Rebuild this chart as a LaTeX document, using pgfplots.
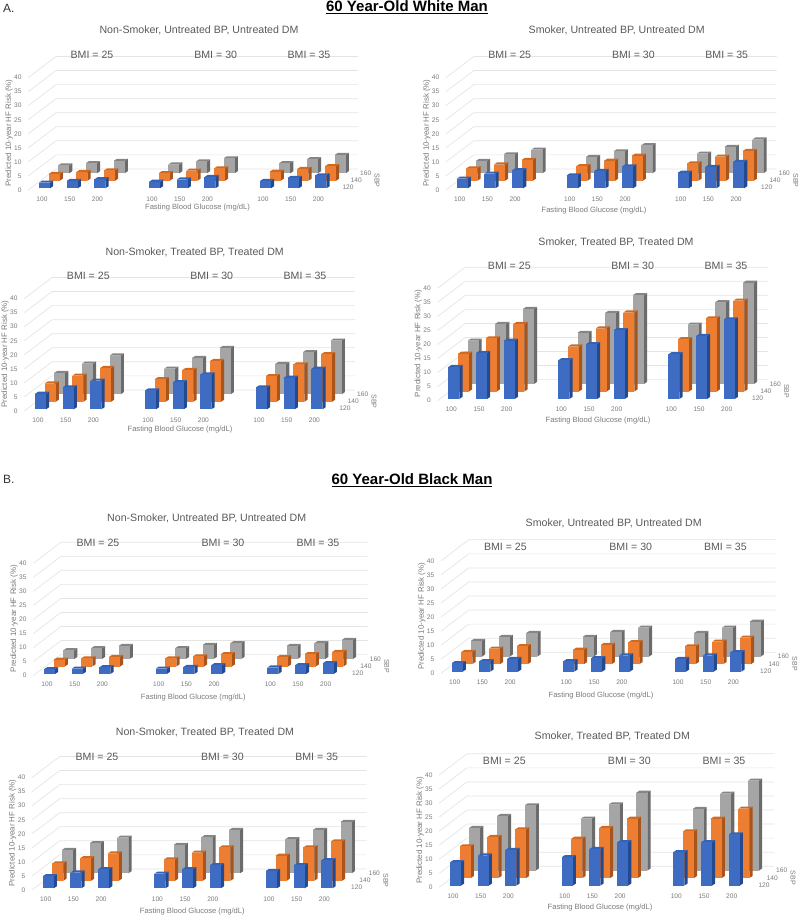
\documentclass[border=0pt]{standalone}
\usepackage{fontspec}
\setmainfont{Liberation Sans}
\usepackage{pgfplots}
\pgfplotsset{compat=1.18}
\definecolor{blueF}{HTML}{3F6CC3}\definecolor{blueT}{HTML}{3462B4}\definecolor{blueS}{HTML}{234A8E}
\definecolor{orangeF}{HTML}{ED7D31}\definecolor{orangeT}{HTML}{D06A22}\definecolor{orangeS}{HTML}{A9541A}
\definecolor{grayF}{HTML}{A5A5A5}\definecolor{grayT}{HTML}{858585}\definecolor{grayS}{HTML}{6B6B6B}
\definecolor{gridc}{HTML}{E4E4E4}\definecolor{tickc}{HTML}{7A7A7A}\definecolor{titlec}{HTML}{595959}
\newcommand\fs[1]{\fontsize{#1pt}{#1pt}\selectfont}
\newcommand\geomA[9]{\def\ox{#1}\def\oy{#2}\def\trel{#3}\def\tabove{#4}\def\bA{#5}\def\bB{#6}\def\bC{#7}\def\babove{#8}\def\xlrel{#9}}
\newcommand\geomB[4]{\def\xlbelow{#1}\def\gB{#2}\def\gC{#3}\def\gright{#4}}
\newcommand\rowbars[4]{%
  \foreach \v [count=\i from 0] in {#1}{%
    \pgfmathtruncatemacro\g{int(\i/3)}%
    \pgfmathtruncatemacro\j{\i-3*\g}%
    \pgfmathsetmacro\gs{\g==0?0:(\g==1?\gB:\gC)}%
    \pgfmathsetmacro\xa{\gs+\j*27.7+#2}%
    \pgfmathsetmacro\xb{\xa+11}%
    \pgfmathsetmacro\xc{\xb+3.2}%
    \pgfmathsetmacro\xe{\xa+3.2}%
    \pgfmathsetmacro\ya{#3}%
    \pgfmathsetmacro\yb{#3+\v}%
    \pgfmathsetmacro\yc{\yb+0.75}%
    \pgfmathsetmacro\yd{\ya+0.75}%
    \addplot[fill=#4S,draw=none,forget plot] coordinates {(\xb,\ya)(\xc,\yd)(\xc,\yc)(\xb,\yb)};
    \addplot[fill=#4T,draw=none,forget plot] coordinates {(\xa,\yb)(\xb,\yb)(\xc,\yc)(\xe,\yc)};
    \addplot[fill=#4F,draw=none,forget plot] coordinates {(\xa,\ya)(\xb,\ya)(\xb,\yb)(\xa,\yb)};
  }%
}
\newcommand\panel[4]{%
  \pgfmathsetmacro\ax{\ox-17.3}\pgfmathsetmacro\ay{917-\oy}%
  \pgfmathsetmacro\tD{\gB+3}\pgfmathsetmacro\tE{\gB+30.7}\pgfmathsetmacro\tF{\gB+58.4}%
  \pgfmathsetmacro\tG{\gC+3}\pgfmathsetmacro\tH{\gC+30.7}\pgfmathsetmacro\tI{\gC+58.4}%
  \begin{axis}[
    at={(\ax pt,\ay pt)},anchor=south west,scale only axis,width=362.3pt,height=134.88pt,
    xmin=-17.3,xmax=345,ymin=0,ymax=48,clip=false,no markers,
    axis line style={draw=none},major tick length=0pt,tick style={draw=none},
    ytick={0,5,10,15,20,25,30,35,40},
    xtick={3,30.7,58.4,\tD,\tE,\tF,\tG,\tH,\tI},
    xticklabels={100,150,200,100,150,200,100,150,200},
    /pgf/number format/assume math mode=true,
    tick label style={font=\fs{6.6},text=tickc},
    yticklabel style={inner sep=0pt,anchor=east,xshift=0pt},
    xticklabel style={inner sep=0pt,anchor=center,yshift=-9pt},
    title={#1},
    title style={font=\fs{10.6},text=titlec,inner sep=0pt,anchor=center,yshift=0pt,
      at={(axis description cs:{(\trel+17.3)/362.3},{(\tabove-7)/134.88})}},
    xlabel={Fasting Blood Glucose (mg/dL)},
    xlabel style={font=\fs{7.6},text=tickc,inner sep=0pt,anchor=center,
      at={(axis description cs:{(\xlrel+17.3)/362.3},{(-\xlbelow-1)/134.88})}},
    ylabel={Predicted 10-year HF Risk (\%)},
    ylabel style={font=\fs{7.9},text=tickc,inner sep=0pt,anchor=center,rotate=0,
      at={(axis description cs:{(-30+17.3)/362.3},{57/134.88})}},
  ]
  \foreach \l in {0,5,10,15,20,25,30,35,40}{%
    \pgfmathsetmacro\ll{\l+7.5}%
    \addplot[color=gridc,line width=0.7pt,forget plot] coordinates {(-10.7,\l)(17,\ll)(\gright,\ll)};
  }
  \rowbars{#4}{19.2}{5.94}{gray}
  \rowbars{#3}{9.6}{3.27}{orange}
  \rowbars{#2}{0}{0.6}{blue}
  \node[font=\fs{10.6},text=titlec,inner sep=0pt] at (axis cs:\bA,{\babove/2.81}) {BMI = 25};
  \node[font=\fs{10.6},text=titlec,inner sep=0pt] at (axis cs:\bB,{\babove/2.81}) {BMI = 30};
  \node[font=\fs{10.6},text=titlec,inner sep=0pt] at (axis cs:\bC,{\babove/2.81}) {BMI = 35};
  \node[font=\fs{6.6},text=tickc,inner sep=0pt] at (axis cs:{\gright-10},0.85) {120};
  \node[font=\fs{6.6},text=tickc,inner sep=0pt] at (axis cs:{\gright-1.7},3.3) {140};
  \node[font=\fs{6.6},text=tickc,inner sep=0pt] at (axis cs:{\gright+7.7},5.9) {160};
  \node[font=\fs{7},text=tickc,inner sep=0pt,rotate=-90] at (axis cs:{\gright+19},3.4) {SBP};
  \end{axis}%
}
\begin{document}
\begin{tikzpicture}
\path[use as bounding box] (0pt,0pt) rectangle (800pt,917pt);
\node[font=\fs{15}\bfseries,inner sep=0pt] at (407pt,909.5pt) {\underline{60 Year-Old White Man}};
\node[font=\fs{15}\bfseries,inner sep=0pt] at (412pt,437.2pt) {\underline{60 Year-Old Black Man}};
\node[font=\fs{12},inner sep=0pt,anchor=west,text=black!80] at (3pt,908.5pt) {A.};
\node[font=\fs{12},inner sep=0pt,anchor=west,text=black!80] at (3pt,437.2pt) {B.};
% ---- A, top left
\geomA{39}{190}{160}{160.7}{53}{176.7}{270}{135}{158.5}\geomB{16.7}{110}{221}{319}
\panel{Non-Smoker, Untreated BP, Untreated DM}
 {2.0,2.6,3.2, 2.3,3.1,4.0, 2.6,3.7,4.6}
 {2.4,3.1,3.7, 2.7,3.6,4.4, 3.2,4.2,5.2}
 {2.8,3.6,4.4, 3.1,4.2,5.3, 3.6,5.0,6.5}
% ---- A, top right
\geomA{456.7}{190}{160}{160.7}{53}{176.7}{270}{135}{137.3}\geomB{20}{110}{221}{320}
\panel{Smoker, Untreated BP, Untreated DM}
 {3.4,5.2,6.4, 4.6,6.2,7.8, 5.5,7.6,9.4}
 {4.4,5.8,7.4, 5.2,7.1,8.9, 6.2,8.6,10.6}
 {4.4,6.7,8.4, 5.8,7.8,10.0, 7.0,9.4,12.0}
% ---- A, lower left
\geomA{35}{411}{159.7}{160}{53.3}{176.7}{270}{135}{145}\geomB{17.3}{110}{221}{320}
\panel{Non-Smoker, Treated BP, Treated DM}
 {5.5,7.8,10.2, 6.7,9.6,12.4, 7.8,11.2,14.4}
 {6.5,9.3,12.0, 8.0,11.3,14.5, 9.1,13.3,16.9}
 {7.6,10.9,13.8, 9.1,12.9,16.5, 10.8,15.0,19.1}
% ---- A, lower right
\geomA{448.3}{400.7}{167.7}{159}{61}{184.3}{277.7}{135}{149.7}\geomB{19.3}{110}{220}{319.3}
\panel{Smoker, Treated BP, Treated DM}
 {11.4,16.4,20.7, 13.8,19.5,24.5, 15.9,22.4,28.3}
 {13.4,18.9,24.0, 16.0,22.4,28.1, 18.6,26.0,32.3}
 {15.4,21.4,26.7, 18.2,25.3,31.6, 21.1,29.1,36.0}
% ---- B, top left
\geomA{44}{675.7}{162.7}{158}{54}{179}{274}{132.4}{149.3}\geomB{21}{111.7}{223.3}{323.7}
\panel{Non-Smoker, Untreated BP, Untreated DM}
 {1.7,1.9,2.4, 1.9,2.5,3.1, 2.3,3.1,3.8}
 {2.4,2.9,3.4, 2.9,3.6,4.4, 3.4,4.4,5.2}
 {3.1,3.8,4.6, 3.8,5.0,5.6, 4.6,5.6,6.8}
% ---- B, top right
\geomA{451.7}{673.3}{162}{151.3}{53.7}{179}{273.7}{126.7}{149.3}\geomB{21.4}{111.7}{223.3}{324}
\panel{Smoker, Untreated BP, Untreated DM}
 {3.0,3.7,4.5, 3.7,4.8,5.7, 4.5,5.7,6.9}
 {4.3,5.5,6.4, 5.1,6.8,7.8, 6.3,8.0,9.4}
 {5.6,7.0,8.4, 7.0,8.8,10.3, 8.4,10.3,12.4}
% ---- B, lower left
\geomA{42.7}{890}{162.3}{158.3}{54.3}{179.7}{274}{133.3}{149.6}\geomB{21}{111.7}{223.3}{324}
\panel{Non-Smoker, Treated BP, Treated DM}
 {4.3,5.6,6.8, 5.2,6.8,8.2, 6.2,8.2,10.0}
 {6.2,8.0,9.7, 7.6,10.0,11.9, 8.9,11.9,14.0}
 {8.3,10.7,12.7, 10.1,12.8,15.4, 12.1,15.4,18.3}
% ---- B, lower right
\geomA{450}{887.3}{162.3}{152}{54.3}{179.3}{274}{126.7}{150}\geomB{19.4}{111.7}{223.3}{324}
\panel{Smoker, Treated BP, Treated DM}
 {8.3,10.7,12.7, 10.1,13.0,15.4, 11.9,15.4,18.2}
 {11.3,14.6,17.3, 14.0,17.8,21.1, 16.6,21.1,24.7}
 {15.2,19.4,23.2, 18.5,23.5,27.7, 21.9,27.4,32.0}
\end{tikzpicture}
\end{document}
